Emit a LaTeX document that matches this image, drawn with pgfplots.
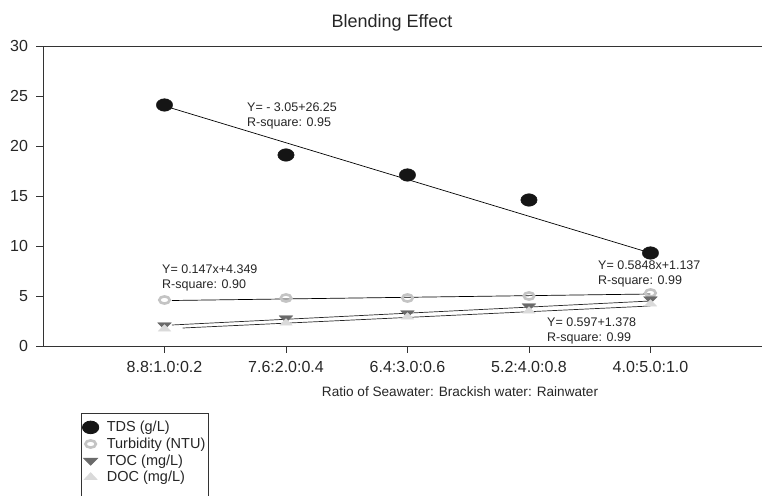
\documentclass[border=0pt]{standalone}
\usepackage{pgfplots}
\pgfplotsset{compat=1.18}
\usepackage{fontspec}
\setmainfont{Liberation Sans}

\definecolor{tdsc}{HTML}{151515}
\definecolor{turbc}{HTML}{C4C4C4}
\definecolor{tocc}{HTML}{6A6A6A}
\definecolor{docc}{HTML}{DADADA}
\definecolor{txt}{HTML}{262626}

\begin{document}
\begin{tikzpicture}[x=1pt,y=1pt]
\useasboundingbox (0,0) rectangle (762,495);
\begin{axis}[
  at={(43pt,149pt)}, anchor=south west,
  scale only axis, width=719pt, height=300pt,
  xmin=0, xmax=5.918, ymin=0, ymax=30,
  axis x line*=bottom, axis y line*=left,
  axis line style={-, line width=0.8pt, black!80},
  xtick={1,2,3,4,5},
  xticklabels={8.8:1.0:0.2, 7.6:2.0:0.4, 6.4:3.0:0.6, 5.2:4.0:0.8, 4.0:5.0:1.0},
  ytick={0,5,...,30},
  tick align=outside, major tick length=6.5pt,
  tick style={black!80, line width=0.8pt},
  ticklabel style={font=\fontsize{16}{18}\selectfont, text=txt},
  xticklabel style={yshift=-5pt},
  yticklabel style={xshift=-5pt},
  /pgf/number format/assume math mode=true,
  clip=false,
  legend cell align=left,
  legend image code/.code={\draw[mark repeat=2,mark phase=2,#1] plot coordinates {(0pt,0pt) (8pt,0pt) (16pt,0pt)};},
  legend style={at={(axis description cs:0.0529,-0.2233)}, anchor=north west,
    draw=black!80, line width=0.8pt, inner xsep=1pt, inner ysep=6pt,
    row sep=0.6pt,
    nodes={font=\fontsize{14.5}{16}\selectfont, text=txt},
    /tikz/every odd column/.append style={column sep=6pt}},
]
% frame line along the top at 30
\draw[line width=0.8pt, black!80] (rel axis cs:0,1) -- (rel axis cs:1,1);

% measured series
\addplot[only marks, mark=*, mark size=6.3pt, color=tdsc,
  mark options={xscale=1.3}]
  coordinates {(1,24.1) (2,19.1) (3,17.1) (4,14.6) (5,9.3)};
\addlegendentry{TDS (g/L)}
\addplot[only marks, mark=o, mark size=3.6pt, color=turbc,
  mark options={xscale=1.45, line width=2.6pt, fill=white}]
  coordinates {(1,4.6) (2,4.8) (3,4.8) (4,5.0) (5,5.3)};
\addlegendentry{Turbidity (NTU)}
\addplot[only marks, mark=triangle*, mark size=6pt, color=tocc,
  mark options={rotate=180, yscale=0.75, xscale=1.3}]
  coordinates {(1,2.1) (2,2.8) (3,3.3) (4,4.0) (5,4.7)};
\addlegendentry{TOC (mg/L)}
\addplot[only marks, mark=triangle*, mark size=5.5pt, color=docc,
  mark options={yscale=0.8, xscale=1.3}]
  coordinates {(1,1.7) (2,2.3) (3,2.9) (4,3.5) (5,4.2)};
\addlegendentry{DOC (mg/L)}
\addlegendimage{empty legend}
\addlegendentry{}

% fitted trend lines
\addplot[black, line width=0.7pt, forget plot] coordinates {(1,24.0) (5,9.3)};
\addplot[black, line width=0.7pt, forget plot] coordinates {(1.06,4.55) (5,5.2)};
\addplot[black!85, line width=0.7pt, forget plot] coordinates {(1.06,2.1) (5,4.5)};
\addplot[black!85, line width=0.7pt, forget plot] coordinates {(1.15,1.8) (5,4.0)};
\end{axis}

% title and axis label
\node[anchor=base, font=\fontsize{18}{20}\selectfont, text=txt] at (392,467) {Blending Effect};
\node[anchor=base, font=\fontsize{13.6}{16}\selectfont, text=txt] at (460,98) {Ratio of Seawater: Brackish water: Rainwater};

% regression annotations
\begin{scope}[every node/.style={anchor=base west, inner sep=0pt, font=\fontsize{12.5}{14}\selectfont, text=txt}]
\node at (247,383) {Y= - 3.05+26.25};
\node at (247,368.5) {R-square: 0.95};
\node at (162,221) {Y= 0.147x+4.349};
\node at (162,206.5) {R-square: 0.90};
\node at (598,225) {Y= 0.5848x+1.137};
\node at (598,210) {R-square: 0.99};
\node at (547,168) {Y= 0.597+1.378};
\node at (547,153) {R-square: 0.99};
\end{scope}
\end{tikzpicture}
\end{document}
